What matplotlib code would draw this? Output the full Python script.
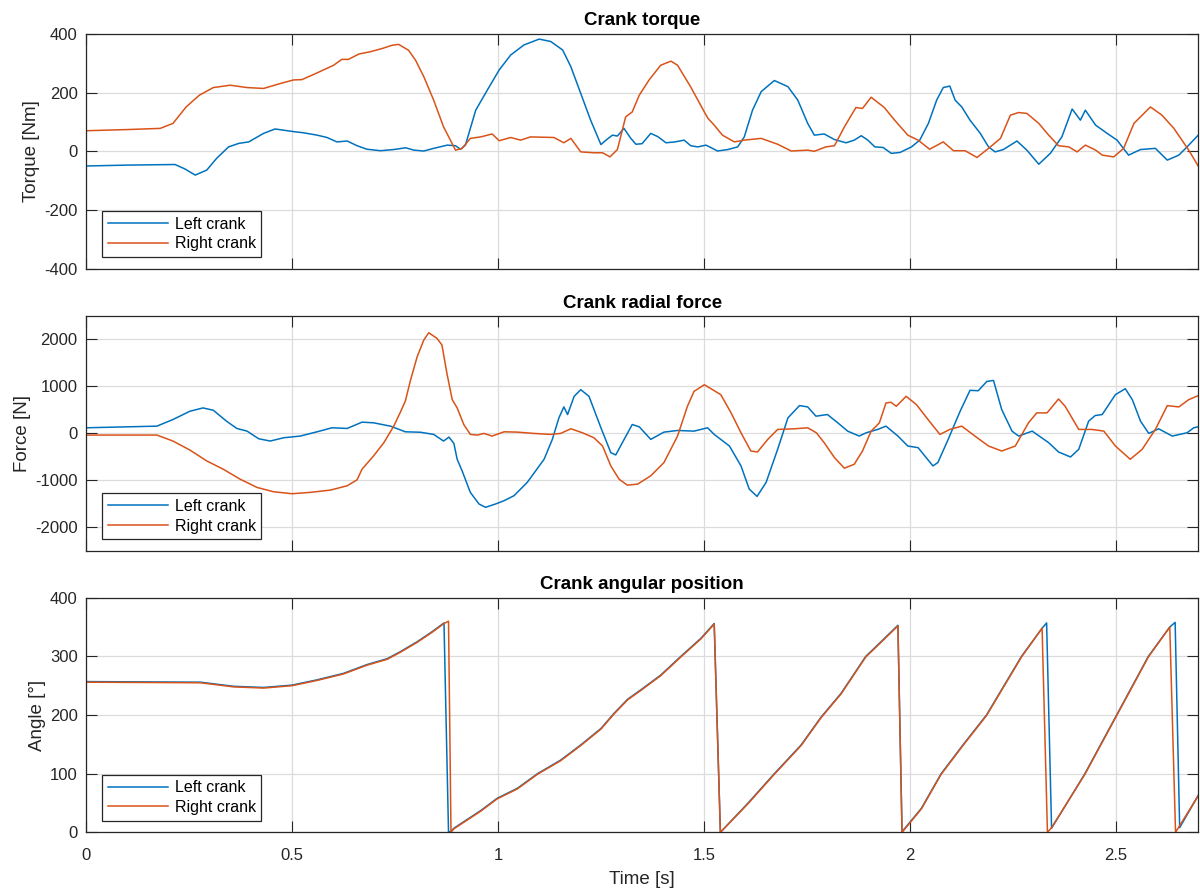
import matplotlib
matplotlib.use("Agg")
import matplotlib.pyplot as plt

plt.rcParams['font.family'] = ['Liberation Sans', 'DejaVu Sans']
plt.rcParams['axes.unicode_minus'] = False

# crank torque [Nm]
t_torque_l = [0.000, 0.100, 0.216, 0.240, 0.265, 0.293, 0.317, 0.346, 0.371, 0.395, 0.431, 0.459, 0.504, 0.528,
              0.561, 0.585, 0.609, 0.634, 0.658, 0.682, 0.715, 0.747, 0.776, 0.796, 0.820, 0.844, 0.877, 0.897,
              0.909, 0.921, 0.946, 0.974, 1.003, 1.031, 1.063, 1.100, 1.128, 1.157, 1.177, 1.201, 1.225, 1.250,
              1.264, 1.278, 1.290, 1.306, 1.322, 1.335, 1.350, 1.371, 1.388, 1.408, 1.430, 1.452, 1.468, 1.485,
              1.505, 1.518, 1.533, 1.558, 1.582, 1.598, 1.618, 1.639, 1.671, 1.704, 1.728, 1.752, 1.768, 1.792,
              1.817, 1.845, 1.865, 1.882, 1.898, 1.915, 1.935, 1.955, 1.976, 2.004, 2.024, 2.045, 2.065, 2.081,
              2.097, 2.110, 2.126, 2.146, 2.171, 2.191, 2.207, 2.227, 2.260, 2.284, 2.313, 2.341, 2.369, 2.394,
              2.414, 2.426, 2.451, 2.479, 2.503, 2.531, 2.560, 2.596, 2.625, 2.653, 2.673, 2.700]
torque_l = [-50, -47, -45, -60, -81, -64, -24, 15, 27, 32, 61, 76, 67, 63,
            55, 47, 32, 35, 19, 7, 2, 6, 12, 4, 1, 10, 21, 19,
            7, 21, 140, 208, 277, 328, 362, 382, 374, 345, 288, 197, 106, 23,
            40, 55, 52, 78, 45, 24, 26, 61, 50, 29, 32, 38, 19, 15,
            21, 12, 1, 6, 15, 49, 140, 203, 241, 220, 174, 95, 55, 59,
            40, 29, 38, 53, 38, 15, 13, -7, -4, 15, 38, 95, 174, 217,
            222, 174, 151, 106, 61, 15, -2, 6, 35, 4, -44, -7, 49, 144,
            106, 140, 89, 61, 38, -13, 6, 10, -30, -13, 15, 55]

t_torque_r = [0.000, 0.100, 0.180, 0.211, 0.243, 0.275, 0.309, 0.350, 0.391, 0.431, 0.472, 0.504, 0.524, 0.561,
              0.601, 0.621, 0.637, 0.662, 0.690, 0.719, 0.743, 0.759, 0.783, 0.800, 0.820, 0.844, 0.868, 0.897,
              0.913, 0.933, 0.958, 0.986, 1.003, 1.031, 1.055, 1.079, 1.136, 1.160, 1.177, 1.201, 1.233, 1.254,
              1.272, 1.290, 1.310, 1.326, 1.343, 1.367, 1.395, 1.420, 1.436, 1.468, 1.501, 1.510, 1.525, 1.545,
              1.574, 1.598, 1.639, 1.679, 1.712, 1.752, 1.768, 1.796, 1.817, 1.841, 1.869, 1.885, 1.906, 1.938,
              1.963, 1.995, 2.020, 2.048, 2.081, 2.106, 2.134, 2.163, 2.191, 2.220, 2.244, 2.264, 2.284, 2.313,
              2.337, 2.361, 2.386, 2.406, 2.426, 2.451, 2.467, 2.495, 2.519, 2.544, 2.564, 2.584, 2.612, 2.641,
              2.677, 2.700]
torque_r = [70, 74, 78, 95, 151, 191, 217, 225, 217, 214, 231, 243, 244, 267,
            293, 313, 313, 331, 339, 350, 361, 364, 344, 310, 254, 174, 83, 4,
            10, 44, 49, 59, 36, 47, 38, 49, 47, 29, 44, -2, -5, -5,
            -19, 6, 117, 134, 191, 243, 293, 307, 293, 219, 134, 112, 89, 55,
            32, 38, 44, 24, 1, 4, 0, 15, 19, 83, 149, 146, 184, 149,
            106, 55, 38, 7, 32, 2, 2, -21, 10, 44, 123, 132, 129, 95,
            55, 19, 15, -2, 21, 4, -13, -19, 10, 95, 123, 151, 123, 78,
            4, -50]

# crank radial force [N]
t_force_l = [0.000, 0.172, 0.211, 0.252, 0.284, 0.309, 0.341, 0.366, 0.391, 0.419, 0.447, 0.480, 0.520, 0.561,
             0.597, 0.634, 0.670, 0.698, 0.739, 0.775, 0.812, 0.844, 0.868, 0.881, 0.893, 0.901, 0.913, 0.933,
             0.954, 0.970, 0.994, 1.015, 1.039, 1.071, 1.112, 1.132, 1.148, 1.160, 1.169, 1.185, 1.201, 1.221,
             1.250, 1.274, 1.286, 1.302, 1.326, 1.343, 1.371, 1.403, 1.436, 1.476, 1.509, 1.525, 1.562, 1.590,
             1.610, 1.629, 1.651, 1.679, 1.704, 1.732, 1.752, 1.772, 1.800, 1.825, 1.849, 1.877, 1.894, 1.922,
             1.942, 1.971, 1.995, 2.020, 2.056, 2.068, 2.093, 2.122, 2.146, 2.166, 2.187, 2.203, 2.223, 2.248,
             2.264, 2.297, 2.337, 2.361, 2.390, 2.410, 2.434, 2.450, 2.467, 2.499, 2.523, 2.540, 2.560, 2.580,
             2.604, 2.637, 2.673, 2.689, 2.700]
force_l = [120, 155, 296, 472, 543, 493, 261, 106, 49, -113, -162, -92, -56, 35,
           120, 106, 240, 226, 155, 35, 25, -21, -162, -78, -212, -550, -797, -1255,
           -1502, -1572, -1502, -1431, -1325, -1043, -550, -127, 331, 564, 402, 790, 931, 790,
           120, -409, -458, -197, 190, 141, -127, 28, 63, 49, 120, -21, -268, -691,
           -1184, -1340, -1043, -338, 331, 592, 564, 367, 402, 226, 49, -56, 14, 85,
           155, -56, -268, -303, -691, -620, -127, 472, 917, 909, 1107, 1128, 508, 49,
           -56, 49, -197, -395, -501, -338, 261, 381, 402, 825, 952, 719, 261, 0,
           99, -56, 14, 120, 141]

t_force_r = [0.000, 0.172, 0.211, 0.252, 0.293, 0.333, 0.374, 0.415, 0.455, 0.500, 0.544, 0.593, 0.634, 0.658,
             0.670, 0.698, 0.723, 0.747, 0.763, 0.775, 0.788, 0.804, 0.820, 0.832, 0.852, 0.864, 0.876, 0.889,
             0.901, 0.917, 0.933, 0.950, 0.966, 0.986, 1.015, 1.047, 1.087, 1.128, 1.152, 1.177, 1.205, 1.233,
             1.254, 1.274, 1.294, 1.314, 1.339, 1.371, 1.403, 1.436, 1.460, 1.476, 1.501, 1.521, 1.541, 1.566,
             1.590, 1.614, 1.630, 1.655, 1.679, 1.720, 1.752, 1.773, 1.792, 1.817, 1.841, 1.865, 1.885, 1.906,
             1.926, 1.942, 1.954, 1.967, 1.991, 2.016, 2.044, 2.073, 2.097, 2.126, 2.158, 2.191, 2.223, 2.256,
             2.288, 2.308, 2.333, 2.361, 2.377, 2.410, 2.442, 2.471, 2.499, 2.535, 2.564, 2.596, 2.625, 2.653,
             2.677, 2.700]
force_r = [-35, -35, -162, -353, -585, -761, -973, -1149, -1241, -1283, -1255, -1206, -1114, -987,
           -761, -479, -197, 155, 450, 684, 1142, 1636, 1988, 2143, 2023, 1882, 1283, 719,
           543, 190, -21, -35, 0, -56, 35, 28, 0, -21, 0, 99, 14, -92,
           -268, -691, -973, -1100, -1079, -902, -620, -56, 578, 895, 1036, 931, 825, 437,
           14, -374, -395, -127, 85, 99, 120, 14, -197, -515, -740, -656, -374, 49,
           226, 649, 663, 578, 790, 613, 296, -21, 85, 155, -56, -268, -374, -268,
           226, 437, 437, 733, 578, 85, 85, 49, -268, -550, -338, 85, 592, 564,
           719, 804]

# crank angular position [deg]
t_angle_l = [0.000, 0.278, 0.358, 0.431, 0.500, 0.561, 0.625, 0.682, 0.731, 0.763, 0.804, 0.840, 0.869, 0.880,
             0.886, 0.893, 0.958, 0.998, 1.047, 1.096, 1.152, 1.201, 1.250, 1.282, 1.315, 1.347, 1.395, 1.444,
             1.493, 1.525, 1.540, 1.606, 1.671, 1.736, 1.784, 1.833, 1.893, 1.930, 1.971, 1.981, 2.028, 2.076,
             2.130, 2.186, 2.271, 2.321, 2.332, 2.344, 2.425, 2.502, 2.579, 2.631, 2.644, 2.655, 2.705]
angle_l = [257, 256, 249, 247, 251, 260, 271, 286, 296, 308, 325, 342, 357, 0,
           2, 7, 37, 58, 75, 100, 123, 149, 177, 203, 227, 243, 268, 300,
           331, 356, 0, 49, 100, 149, 196, 237, 300, 325, 353, 1, 41, 100,
           150, 200, 300, 348, 357, 7, 100, 200, 300, 350, 358, 8, 69]

t_angle_r = [0.000, 0.278, 0.358, 0.431, 0.500, 0.561, 0.625, 0.682, 0.731, 0.763, 0.804, 0.840, 0.869, 0.880,
             0.886, 0.893, 0.958, 0.998, 1.047, 1.096, 1.152, 1.201, 1.250, 1.282, 1.315, 1.347, 1.395, 1.444,
             1.493, 1.525, 1.540, 1.606, 1.671, 1.736, 1.784, 1.833, 1.893, 1.930, 1.971, 1.981, 2.028, 2.076,
             2.130, 2.186, 2.271, 2.321, 2.334, 2.344, 2.425, 2.502, 2.579, 2.631, 2.645, 2.705]
angle_r = [256, 255, 248, 246, 250, 259, 270, 285, 295, 307, 324, 341, 356, 360,
           0, 6, 36, 57, 74, 99, 122, 148, 176, 202, 226, 242, 267, 299,
           330, 355, 0, 48, 99, 148, 195, 236, 299, 324, 352, 0, 40, 99,
           149, 199, 299, 348, 0, 8, 99, 199, 299, 350, 0, 68]

titles = ['Crank torque', 'Crank radial force', 'Crank angular position']
ylabels = ['Torque [Nm]', 'Force [N]', 'Angle [°]']
ylims = [(-400, 400), (-2500, 2500), (0, 400)]
yticks = [[-400, -200, 0, 200, 400], [-2000, -1000, 0, 1000, 2000], [0, 100, 200, 300, 400]]
xticks = [0, 0.5, 1, 1.5, 2, 2.5]
xticklabels = ['0', '0.5', '1', '1.5', '2', '2.5']

series = [(t_torque_l, torque_l, t_torque_r, torque_r),
          (t_force_l, force_l, t_force_r, force_r),
          (t_angle_l, angle_l, t_angle_r, angle_r)]

blue = '#0072BD'
orange = '#D95319'
dark = '#262626'

fig = plt.figure(figsize=(12, 8.9), dpi=100)
boxes = [[0.0717, 0.698, 0.9268, 0.264],
         [0.0717, 0.381, 0.9268, 0.264],
         [0.0717, 0.0648, 0.9268, 0.2636]]

for i in range(3):
    ax = fig.add_axes(boxes[i])
    tl, yl, tr, yr = series[i]
    ax.plot(tl, yl, color=blue, lw=1.1, label='Left crank')
    ax.plot(tr, yr, color=orange, lw=1.1, label='Right crank')
    ax.set_xlim(0, 2.7)
    ax.set_ylim(*ylims[i])
    ax.set_xticks(xticks)
    ax.set_yticks(yticks[i])
    if i == 2:
        ax.set_xticklabels(xticklabels)
        ax.set_xlabel('Time [s]', fontsize=13.5, color=dark, labelpad=6)
    else:
        ax.set_xticklabels([])
    ax.set_ylabel(ylabels[i], fontsize=13.5, color=dark, labelpad=3)
    ax.set_title(titles[i], fontsize=13.5, fontweight='bold', color='black', pad=6)
    ax.grid(True, color='#dcdcdc', lw=0.9)
    ax.set_axisbelow(True)
    ax.tick_params(direction='in', top=True, right=True, length=8, width=0.8,
                   labelsize=12, colors=dark)
    ax.tick_params(axis='x', pad=11)
    ax.tick_params(axis='y', pad=6)
    for s in ax.spines.values():
        s.set_color(dark)
        s.set_linewidth(0.9)
    leg = ax.legend(loc='lower left', bbox_to_anchor=(0.0144, 0.05), borderaxespad=0,
                    fontsize=11.5, fancybox=False, framealpha=1, edgecolor=dark,
                    handlelength=3.8, handletextpad=0.4, borderpad=0.35, labelspacing=0.3)
    leg.get_frame().set_linewidth(0.9)

fig.savefig('out.png', dpi=100, facecolor='white')
